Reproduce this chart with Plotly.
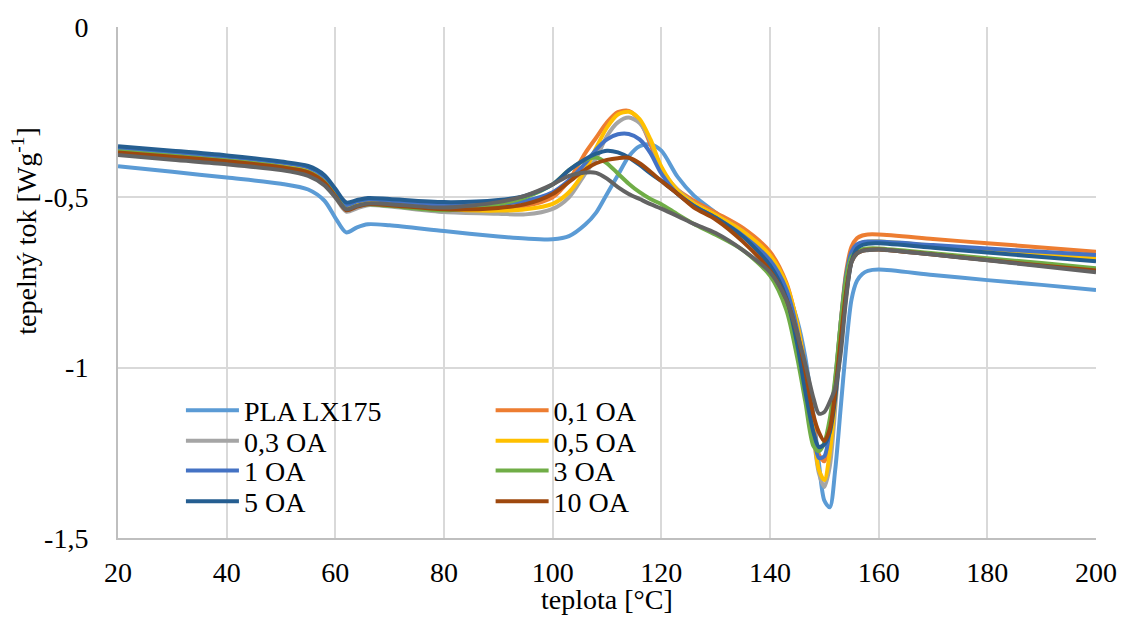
import plotly.graph_objects as go

# Temperature grid [°C]
temperature = [20, 30, 40, 50, 55, 58, 60, 62, 64, 66, 70, 80, 90, 95, 100, 103, 106, 108, 110, 112,
               114, 116, 118, 120, 123, 126, 130, 135, 140, 143, 145, 146.5, 148, 149, 150, 151, 152,
               153, 154, 155, 156, 157, 158, 160, 170, 180, 190, 200]

pla_lx175 = [-0.409, -0.425, -0.442, -0.460, -0.477, -0.510, -0.560, -0.603, -0.588, -0.579, -0.582, -0.599,
             -0.615, -0.621, -0.623, -0.614, -0.580, -0.545, -0.490, -0.435, -0.380, -0.350, -0.345, -0.363,
             -0.440, -0.495, -0.545, -0.610, -0.690, -0.770, -0.860, -0.970, -1.140, -1.280, -1.390, -1.410,
             -1.300, -1.120, -0.940, -0.800, -0.745, -0.725, -0.716, -0.712, -0.728, -0.743, -0.757, -0.772]

oa_0_1 = [-0.360, -0.373, -0.386, -0.402, -0.416, -0.445, -0.485, -0.527, -0.517, -0.510, -0.514, -0.527,
          -0.530, -0.525, -0.500, -0.450, -0.370, -0.325, -0.280, -0.250, -0.246, -0.275, -0.345, -0.420,
          -0.478, -0.510, -0.545, -0.590, -0.660, -0.750, -0.870, -1.000, -1.170, -1.255, -1.275, -1.200,
          -1.050, -0.870, -0.720, -0.645, -0.620, -0.612, -0.609, -0.609, -0.622, -0.635, -0.647, -0.660]

oa_0_3 = [-0.372, -0.386, -0.399, -0.418, -0.435, -0.460, -0.500, -0.542, -0.532, -0.523, -0.527, -0.543,
          -0.548, -0.550, -0.534, -0.500, -0.430, -0.385, -0.320, -0.280, -0.266, -0.282, -0.335, -0.415,
          -0.478, -0.517, -0.552, -0.600, -0.675, -0.760, -0.880, -1.020, -1.200, -1.310, -1.350, -1.290,
          -1.120, -0.920, -0.760, -0.680, -0.660, -0.655, -0.653, -0.653, -0.668, -0.684, -0.700, -0.716]

oa_0_5 = [-0.362, -0.376, -0.389, -0.405, -0.420, -0.450, -0.490, -0.532, -0.522, -0.515, -0.520, -0.535,
          -0.539, -0.535, -0.519, -0.485, -0.420, -0.355, -0.295, -0.257, -0.249, -0.270, -0.330, -0.410,
          -0.480, -0.518, -0.552, -0.600, -0.670, -0.755, -0.870, -1.010, -1.190, -1.300, -1.330, -1.250,
          -1.090, -0.890, -0.740, -0.665, -0.640, -0.633, -0.630, -0.630, -0.642, -0.655, -0.667, -0.679]

oa_1 = [-0.355, -0.368, -0.381, -0.398, -0.412, -0.440, -0.480, -0.522, -0.512, -0.506, -0.510, -0.522,
        -0.520, -0.510, -0.485, -0.450, -0.400, -0.360, -0.330, -0.315, -0.314, -0.330, -0.370, -0.430,
        -0.490, -0.525, -0.560, -0.612, -0.685, -0.770, -0.890, -1.030, -1.200, -1.265, -1.260, -1.180,
        -1.040, -0.870, -0.730, -0.660, -0.638, -0.632, -0.630, -0.630, -0.640, -0.650, -0.660, -0.669]

oa_3 = [-0.365, -0.378, -0.392, -0.410, -0.425, -0.455, -0.495, -0.535, -0.525, -0.520, -0.525, -0.538,
        -0.520, -0.500, -0.462, -0.420, -0.390, -0.383, -0.400, -0.430, -0.460, -0.485, -0.505, -0.520,
        -0.550, -0.578, -0.610, -0.655, -0.730, -0.830, -0.970, -1.100, -1.230, -1.245, -1.220, -1.150,
        -1.030, -0.870, -0.740, -0.675, -0.658, -0.652, -0.650, -0.650, -0.664, -0.679, -0.693, -0.708]

oa_5 = [-0.350, -0.363, -0.377, -0.395, -0.408, -0.435, -0.475, -0.515, -0.508, -0.502, -0.505, -0.514,
        -0.508, -0.495, -0.462, -0.420, -0.388, -0.372, -0.363, -0.368, -0.383, -0.405, -0.430, -0.452,
        -0.490, -0.525, -0.560, -0.615, -0.700, -0.795, -0.930, -1.070, -1.190, -1.233, -1.225, -1.190,
        -1.090, -0.940, -0.790, -0.690, -0.650, -0.640, -0.636, -0.635, -0.648, -0.662, -0.675, -0.688]

oa_10 = [-0.368, -0.381, -0.394, -0.412, -0.427, -0.457, -0.497, -0.538, -0.527, -0.520, -0.523, -0.535,
         -0.531, -0.520, -0.490, -0.455, -0.418, -0.400, -0.390, -0.385, -0.384, -0.400, -0.425, -0.452,
         -0.490, -0.530, -0.565, -0.630, -0.715, -0.800, -0.900, -1.010, -1.140, -1.190, -1.215, -1.180,
         -1.070, -0.920, -0.780, -0.690, -0.665, -0.657, -0.654, -0.653, -0.668, -0.684, -0.700, -0.715]

unlabelled = [-0.376, -0.390, -0.403, -0.420, -0.437, -0.465, -0.500, -0.535, -0.525, -0.518, -0.520, -0.530,
              -0.514, -0.495, -0.462, -0.437, -0.427, -0.428, -0.445, -0.470, -0.490, -0.505, -0.520, -0.533,
              -0.555, -0.578, -0.605, -0.655, -0.720, -0.800, -0.900, -0.990, -1.090, -1.135, -1.130, -1.100,
              -1.060, -0.960, -0.800, -0.690, -0.665, -0.657, -0.655, -0.653, -0.668, -0.685, -0.702, -0.720]

series_names = ["PLA LX175", "0,1 OA", "0,3 OA", "0,5 OA", "1 OA", "3 OA", "5 OA", "10 OA", ""]
series_values = [pla_lx175, oa_0_1, oa_0_3, oa_0_5, oa_1, oa_3, oa_5, oa_10, unlabelled]
series_colors = ["#5B9BD5", "#ED7D31", "#A5A5A5", "#FFC000", "#4472C4", "#70AD47", "#255E91", "#9E480E", "#636363"]

x_tick_vals = [20, 40, 60, 80, 100, 120, 140, 160, 180, 200]
x_tick_text = ["20", "40", "60", "80", "100", "120", "140", "160", "180", "200"]
y_tick_vals = [0, -0.5, -1, -1.5]
y_tick_text = ["0", "-0,5", "-1", "-1,5"]

FONT = "Liberation Serif, Times New Roman, serif"
W, H = 1129, 634
L, R, T, B = 118, 32, 21, 96
pw, ph = W - L - R, H - T - B

def px_x(p):
    return (p - L) / pw

def px_y(p):
    return (H - B - p) / ph

fig = go.Figure()
legend_pos = [(181, 409), (491, 409), (181, 440), (491, 440), (181, 470), (491, 470), (181, 501), (491, 501)]
for i, (name, vals, col) in enumerate(zip(series_names, series_values, series_colors)):
    if i < 8:
        lg = "legend" if i == 0 else f"legend{i + 1}"
        fig.add_trace(go.Scatter(x=temperature, y=vals, mode="lines", name=name,
                                 line=dict(color=col, width=4, shape="spline", smoothing=0.8),
                                 legend=lg))
    else:
        fig.add_trace(go.Scatter(x=temperature, y=vals, mode="lines", name="5 OA (b)",
                                 line=dict(color=col, width=4, shape="spline", smoothing=0.8),
                                 showlegend=False))

legends = {}
for i, (lx, ly) in enumerate(legend_pos):
    key = "legend" if i == 0 else f"legend{i + 1}"
    legends[key] = dict(x=px_x(lx), y=px_y(ly), xanchor="left", yanchor="middle",
                        bgcolor="rgba(0,0,0,0)", borderwidth=0, itemwidth=53,
                        font=dict(family=FONT, size=28, color="black"))

fig.update_layout(
    width=W, height=H,
    margin=dict(l=L, r=R, t=T, b=B),
    plot_bgcolor="white", paper_bgcolor="white",
    font=dict(family=FONT, size=28, color="black"),
    showlegend=True,
    **legends,
    xaxis=dict(range=[20, 200], tickvals=x_tick_vals, ticktext=x_tick_text,
               showgrid=True, gridcolor="#D9D9D9", gridwidth=1.5, zeroline=False,
               showline=True, linecolor="#BFBFBF", linewidth=2,
               ticks="outside", ticklen=8, tickcolor="rgba(0,0,0,0)"),
    yaxis=dict(range=[-1.5, 0], tickvals=y_tick_vals, ticktext=y_tick_text,
               showgrid=True, gridcolor="#D9D9D9", gridwidth=1.5, zeroline=False,
               showline=True, linecolor="#BFBFBF", linewidth=2,
               ticks="outside", ticklen=22, tickcolor="rgba(0,0,0,0)"),
    annotations=[
        dict(text="teplota [°C]", x=0.5, y=px_y(600), xref="paper", yref="paper",
             xanchor="center", yanchor="middle", showarrow=False,
             font=dict(family=FONT, size=28, color="black")),
        dict(text="tepelný tok [Wg<sup>-1</sup>]", x=px_x(25), y=px_y(227), xref="paper", yref="paper",
             xanchor="center", yanchor="middle", textangle=-90, showarrow=False,
             font=dict(family=FONT, size=28, color="black")),
    ],
)

fig.write_html("out.html")
